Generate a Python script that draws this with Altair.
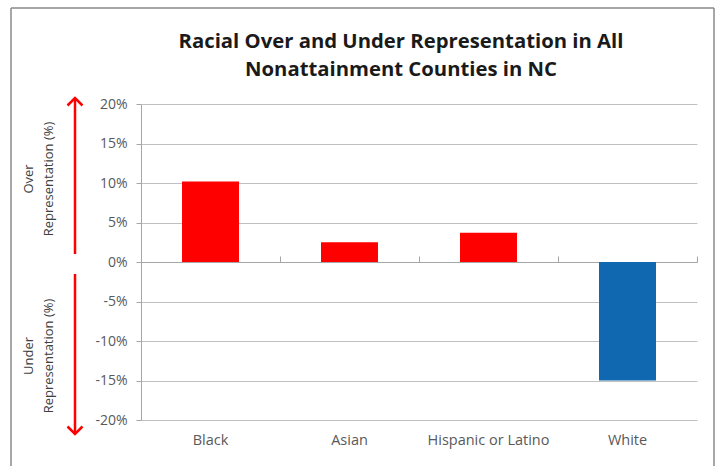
import altair as alt
import pandas as pd

categories = ["Black", "Asian", "Hispanic or Latino", "White"]
values = [0.102, 0.025, 0.037, -0.150]
colors = ["#ff0000", "#ff0000", "#ff0000", "#1068b0"]
y_ticks = [-0.2, -0.15, -0.1, -0.05, 0, 0.05, 0.1, 0.15, 0.2]
title_lines = ["Racial Over and Under Representation in All", "Nonattainment Counties in NC"]
over_label = ["Over", "Representation (%)"]
under_label = ["Under", "Representation (%)"]

df = pd.DataFrame({"cat": categories, "value": values, "color": colors})
one = alt.Data(values=[{"k": 1}])

GRAY_TXT = "#595959"
AX = "#a6a6a6"
W, H = 556, 316

xscale = alt.Scale(paddingInner=0, paddingOuter=0)

bars = alt.Chart(df).mark_bar(width=alt.RelativeBandSize(0.41)).encode(
    x=alt.X("cat:N", sort=categories, scale=xscale,
            axis=alt.Axis(title=None, labelAngle=0, ticks=False, domain=False,
                          labelPadding=13, labelFont="Open Sans", labelFontSize=14.5,
                          labelColor=GRAY_TXT, grid=False)),
    y=alt.Y("value:Q", scale=alt.Scale(domain=[-0.2, 0.2], nice=False),
            axis=alt.Axis(title=None, values=y_ticks,
                          labelExpr="round(datum.value*100) + '%'",
                          grid=True, gridColor="#c0c0c0", gridWidth=1,
                          domainColor=AX, tickColor=AX, tickSize=5,
                          labelPadding=9, labelFont="Open Sans", labelFontSize=14,
                          labelColor=GRAY_TXT)),
    color=alt.Color("color:N", scale=None),
)

zero_axis = alt.Chart(df).mark_point(opacity=0).encode(
    x=alt.X("cat:N", sort=categories, scale=xscale,
            axis=alt.Axis(title=None, labels=False, offset=-H / 2, tickBand="extent",
                          tickSize=6, domainColor=AX, tickColor=AX, grid=False)),
)

frame_style = dict(color="#8a8a8a", strokeWidth=1.5)
frame_left = alt.Chart(one).mark_rule(**frame_style).encode(
    x=alt.value(-130), y=alt.value(-96), y2=alt.value(362))
frame_right = alt.Chart(one).mark_rule(**frame_style).encode(
    x=alt.value(573), y=alt.value(-96), y2=alt.value(362))
frame_top = alt.Chart(one).mark_rule(**frame_style).encode(
    x=alt.value(-130), x2=alt.value(573), y=alt.value(-96))

title = alt.Chart(one).mark_text(font="Open Sans", fontWeight="bold", fontSize=20.3,
                                 lineHeight=28, align="center", baseline="alphabetic",
                                 color="#1a1a1a").encode(
    x=alt.value(260), y=alt.value(-56), text=alt.value(title_lines)
)

side_style = dict(angle=270, align="center", baseline="middle", lineHeight=20,
                  font="Open Sans", fontSize=13, color="#404040")
over_txt = alt.Chart(one).mark_text(**side_style).encode(
    x=alt.value(-112), y=alt.value(75), text=alt.value(over_label))
under_txt = alt.Chart(one).mark_text(**side_style).encode(
    x=alt.value(-112), y=alt.value(252), text=alt.value(under_label))

RED = "#ff0000"
shaft_up = alt.Chart(one).mark_rule(color=RED, strokeWidth=2.5).encode(
    x=alt.value(-66), y=alt.value(-5), y2=alt.value(150))
shaft_dn = alt.Chart(one).mark_rule(color=RED, strokeWidth=2.5).encode(
    x=alt.value(-66), y=alt.value(170), y2=alt.value(329))
head_up = alt.Chart(one).mark_point(shape="M-1,1L0,0L1,1", filled=False, stroke=RED,
                                    strokeWidth=2.5, size=225, opacity=1).encode(
    x=alt.value(-66), y=alt.value(-6))
head_dn = alt.Chart(one).mark_point(shape="M-1,-1L0,0L1,-1", filled=False, stroke=RED,
                                    strokeWidth=2.5, size=225, opacity=1).encode(
    x=alt.value(-66), y=alt.value(330))

chart = alt.layer(
    frame_left, frame_right, frame_top, bars, zero_axis, title, over_txt, under_txt,
    shaft_up, shaft_dn, head_up, head_dn
).resolve_axis(x="independent").properties(
    width=W, height=H,
    padding={"left": 10, "top": 7, "right": 0, "bottom": 0},
    background="white",
).configure_view(strokeWidth=0)

chart.save("out.html", embed_options={"renderer": "svg", "actions": False})
